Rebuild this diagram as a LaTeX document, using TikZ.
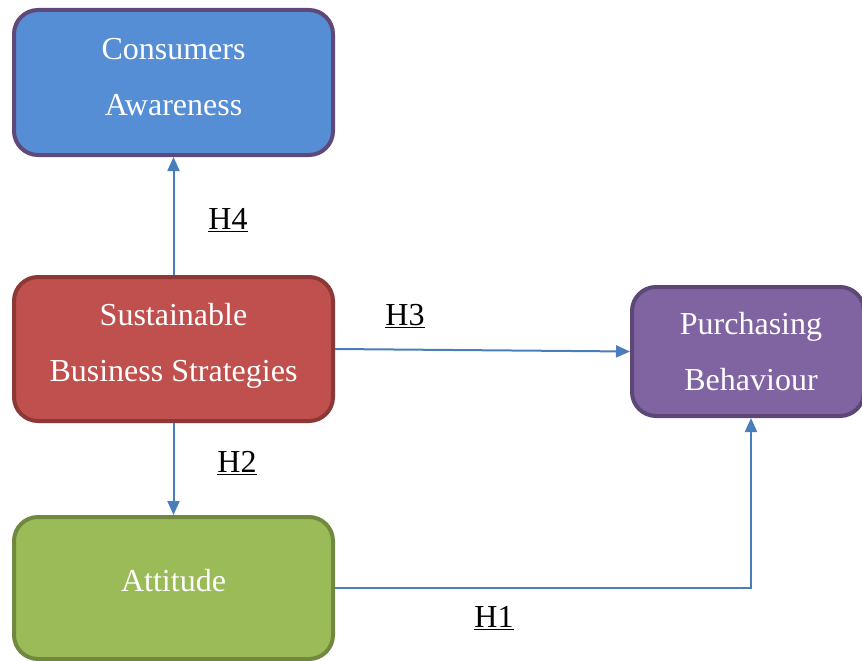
\documentclass[tikz,border=0pt]{standalone}
\usepackage{fontspec}
\setmainfont{Liberation Serif}
\usetikzlibrary{arrows.meta}
\usetikzlibrary{positioning}

\definecolor{linkblue}{HTML}{4A7EBB}

\begin{document}
\begin{tikzpicture}[x=1pt,y=-1pt,
box/.style = {draw, line width=4pt, rounded corners=24pt, minimum width=319pt},
boxtext/.style = {align=center, text=white, font=\fontsize{32}{56}\selectfont},
link/.style = {linkblue, line width=2pt, -{Triangle[length=14pt,width=12pt]}},
hyp/.style = {font=\fontsize{32}{38}\selectfont}]
\useasboundingbox (0,0) rectangle (862,661);
\node[box, fill={rgb,255:red,85;green,142;blue,213}, draw={rgb,255:red,95;green,73;blue,122},
  minimum height=145pt] (aware) at (173.5,82.5) {};
\node[box, fill={rgb,255:red,192;green,80;blue,77}, draw={rgb,255:red,140;green,56;blue,54},
  minimum height=144pt] (strat) at (173.5,349) {};
\node[box, fill={rgb,255:red,155;green,187;blue,89}, draw={rgb,255:red,113;green,137;blue,63},
  minimum height=142pt] (attit) at (173.5,588) {};
\node[box, fill={rgb,255:red,128;green,100;blue,162}, draw={rgb,255:red,92;green,71;blue,118},
  minimum width=232pt, minimum height=129pt] (purch) at (748,351.5) {};
% box texts
\node[boxtext] (awaretext) at ([yshift=5pt]aware.center) {Consumers\\Awareness};
\node[boxtext] (strattext) at ([yshift=3pt]strat.center) {Sustainable\\Business Strategies};
\node[boxtext] (attittext) at ([yshift=7pt]attit.center) {Attitude};
\node[boxtext] (purchtext) at ([xshift=3pt]purch.center) {Purchasing\\Behaviour};
% hypotheses
\draw [link] (strat.north) -- (aware.south);
\draw [link] (strat.east) -- (purch.west);
\draw [link] (strat.south) -- (attit.north);
\draw [link] (attit.east) -| ([xshift=3pt]purch.south);
\node[hyp] (h4) at (228,220) {\underline{H4}};
\node[hyp] (h3) at (405,316) {\underline{H3}};
\node[hyp] (h2) at (237,463) {\underline{H2}};
\node[hyp] (h1) at (494,618) {\underline{H1}};
\end{tikzpicture}
\end{document}
